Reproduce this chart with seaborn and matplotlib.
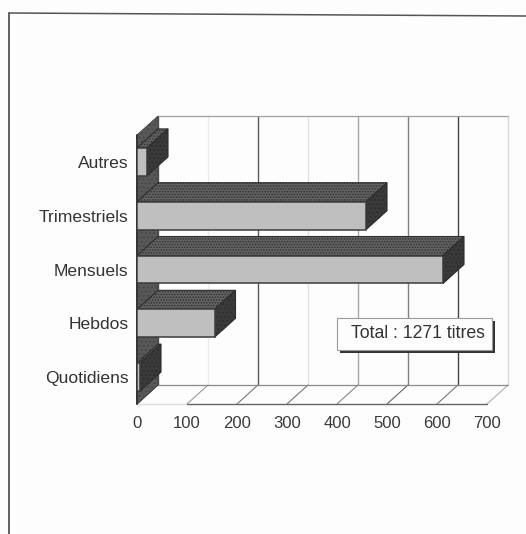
import matplotlib
matplotlib.use("Agg")
import matplotlib.pyplot as plt
from matplotlib.patches import Polygon, Rectangle
from matplotlib.lines import Line2D
import pandas as pd
import seaborn as sns

categories = ["Autres", "Trimestriels", "Mensuels", "Hebdos", "Quotidiens"]
titres = [20, 458, 612, 155, 6]
x_ticks = [0, 100, 200, 300, 400, 500, 600, 700]
grid_colors = ["#555555", "#ececec", "#5a5a5a", "#e0e0e0", "#a8a8a8", "#808080", "#444444", "#dadada"]
floor_colors = ["#333333", "#9a9a9a", "#777777", "#777777", "#8a8a8a", "#666666", "#777777", "#b0b0b0"]
note = "Total : 1271 titres"

W, H = 526, 534
BG = "#fdfdfd"
sns.set_theme(style="white")
plt.rcParams["font.family"] = ["Liberation Sans", "DejaVu Sans"]
plt.rcParams["hatch.linewidth"] = 0.7

fig = plt.figure(figsize=(W / 100, H / 100), dpi=100, facecolor=BG)
X0, X1, Y0, Y1 = 137, 487, 404, 135
ax = fig.add_axes([X0 / W, 1 - Y0 / H, (X1 - X0) / W, (Y0 - Y1) / H])
ax.patch.set_alpha(0)

df = pd.DataFrame({"type": categories, "titres": titres})
sns.barplot(data=df, y="type", x="titres", order=categories, orient="h", width=0.52,
            color="#bfbfbf", saturation=1, edgecolor="#3c3c3c", linewidth=1.1, ax=ax, zorder=5)
ax.set_xlim(0, 700)
ax.set_ylim(4.5, -0.5)

# oblique depth in data units
dx = 21 / 0.5
dy = -19 / ((Y0 - Y1) / 5)
yb, yt = 4.5, -0.5

# walls, floor, grid
for t, c, fc in zip(x_ticks, grid_colors, floor_colors):
    ax.plot([t + dx, t + dx], [yb + dy, yt + dy], color=c, lw=1, clip_on=False, zorder=1)
    ax.plot([t, t + dx], [yb, yb + dy], color=fc, lw=0.8, clip_on=False, zorder=1)
ax.plot([dx, 700 + dx], [yt + dy, yt + dy], color="#a0a0a0", lw=0.9, clip_on=False, zorder=1)
ax.plot([dx, 700 + dx], [yb + dy, yb + dy], color="#8a8a8a", lw=0.9, clip_on=False, zorder=1)
ax.plot([0, 100], [yb, yb], color="#dddddd", lw=1, clip_on=False, zorder=2)
ax.plot([100, 700], [yb, yb], color="#666666", lw=1, clip_on=False, zorder=2)
ax.add_patch(Polygon([(0, yb), (0, yt), (dx, yt + dy), (dx, yb + dy)], closed=True,
                     facecolor="#585858", edgecolor="#444444", hatch="....", lw=0.6,
                     clip_on=False, zorder=2))
ax.plot([0, 0], [yb, yt], color="#333333", lw=1.4, clip_on=False, zorder=3)

# 3D faces computed from the bars seaborn drew
for bar in list(ax.patches):
    if not isinstance(bar, Rectangle):
        continue
    w = bar.get_width()
    ytop, h = bar.get_y(), bar.get_height()
    ybot = ytop + h
    ax.add_patch(Polygon([(0, ytop), (w, ytop), (w + dx, ytop + dy), (dx, ytop + dy)], closed=True,
                         facecolor="#626262", edgecolor="#2e2e2e", hatch="......", lw=0.8,
                         clip_on=False, zorder=4))
    ax.add_patch(Polygon([(w, ytop), (w, ybot), (w + dx, ybot + dy), (w + dx, ytop + dy)], closed=True,
                         facecolor="#3a3a3a", edgecolor="#2c2c2c", hatch="....", lw=0.8,
                         clip_on=False, zorder=4))

ax.set_xlabel("")
ax.set_ylabel("")
ax.set_xticks(x_ticks)
ax.tick_params(axis="x", length=3, color="#666666", labelsize=12, labelcolor="#3a3a3a", pad=6)
ax.tick_params(axis="y", length=0, labelsize=12.6, labelcolor="#333333", pad=8)
for lab in ax.get_yticklabels():
    lab.set_x(0.008)
for s in ax.spines.values():
    s.set_visible(False)

# note box with its shadow
def fx(p): return p / W
def fy(p): return 1 - p / H
fig.add_artist(Rectangle((fx(340), fy(353)), 155 / W, 32 / H, transform=fig.transFigure,
                         facecolor="#333333", edgecolor="none", zorder=8))
fig.add_artist(Rectangle((fx(337), fy(350)), 155 / W, 32 / H, transform=fig.transFigure,
                         facecolor="#fdfdfd", edgecolor="#9a9a9a", lw=0.8, zorder=9))
fig.text(fx(418), fy(334), note, ha="center", va="center", fontsize=12.7, color="#333333", zorder=10)

# page frame of the scanned sheet
fig.add_artist(Line2D([fx(9), fx(526)], [fy(13), fy(16)], color="#555555", lw=1.1))
fig.add_artist(Line2D([fx(9), fx(9)], [fy(13), fy(534)], color="#555555", lw=1.3))

fig.savefig("out.png", dpi=100, facecolor=BG)
